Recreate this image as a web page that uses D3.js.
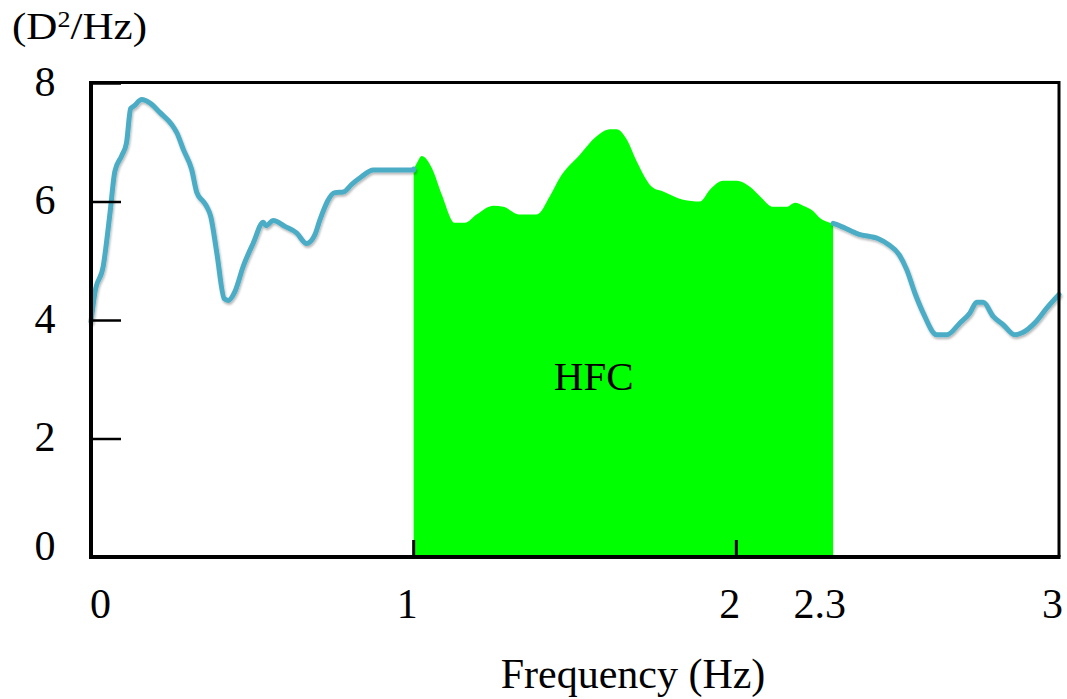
<!DOCTYPE html>
<html>
<head>
<meta charset="utf-8">
<script src="https://cdn.jsdelivr.net/npm/d3@7"></script>
<style>
  html, body { margin: 0; padding: 0; background: #fff; }
  svg { display: block; }
  text { font-family: "Liberation Serif", "Times New Roman", serif; fill: #000; }
</style>
</head>
<body>
<svg id="chart" width="1067" height="699"></svg>
<script>
// Power spectral density of the displacement signal (D^2/Hz) against frequency (Hz)
const psdFreq = [
  0, 0.012, 0.038, 0.059, 0.074, 0.095, 0.11, 0.123, 0.133, 0.157,
  0.183, 0.214, 0.25, 0.266, 0.286, 0.312, 0.328, 0.348, 0.358, 0.371,
  0.39, 0.413, 0.425, 0.446, 0.472, 0.503, 0.534, 0.542, 0.565, 0.601,
  0.637, 0.668, 0.694, 0.71, 0.756, 0.782, 0.808, 0.834, 0.875, 0.999,
  1.0, 1.01, 1.025, 1.056, 1.087, 1.128, 1.159, 1.195, 1.247, 1.278,
  1.329, 1.381, 1.422, 1.453, 1.515, 1.567, 1.608, 1.629, 1.66, 1.691,
  1.742, 1.773, 1.835, 1.887, 1.918, 1.959, 2.001, 2.042, 2.073, 2.114,
  2.156, 2.182, 2.207, 2.238, 2.259, 2.275, 2.3, 2.321, 2.378, 2.44,
  2.47, 2.505, 2.528, 2.553, 2.579, 2.621, 2.652, 2.693, 2.724, 2.745,
  2.765, 2.796, 2.827, 2.863, 2.884, 2.93, 2.962, 3.0
];
const psdValue = [
  3.97, 4.46, 4.91, 5.81, 6.51, 6.77, 6.99, 7.57, 7.61, 7.72,
  7.66, 7.50, 7.30, 7.16, 6.88, 6.54, 6.15, 6.00, 5.92, 5.75,
  5.13, 4.36, 4.33, 4.48, 4.91, 5.30, 5.65, 5.59, 5.68, 5.58,
  5.47, 5.29, 5.44, 5.70, 6.15, 6.16, 6.29, 6.40, 6.53, 6.53,
  6.55, 6.65, 6.77, 6.57, 6.12, 5.64, 5.64, 5.78, 5.93, 5.91,
  5.78, 5.78, 6.09, 6.40, 6.79, 7.10, 7.22, 7.22, 7.05, 6.68,
  6.23, 6.17, 6.03, 6.00, 6.20, 6.35, 6.35, 6.25, 6.09, 5.91,
  5.91, 5.98, 5.93, 5.84, 5.72, 5.67, 5.63, 5.59, 5.45, 5.37,
  5.28, 5.10, 4.85, 4.46, 4.12, 3.75, 3.75, 3.95, 4.12, 4.30,
  4.30, 4.06, 3.92, 3.75, 3.78, 3.98, 4.20, 4.43
];

// High-frequency component band
const hfcBand = [1, 2.3];
const hfcLabel = "HFC";

const yTickValues = [0, 2, 4, 6, 8];
const xTickLabelValues = [0, 1, 2, 2.3, 3];
const xTickMarkValues = [1, 2];

const xTitle = "Frequency (Hz)";

const data = psdFreq.map((f, i) => ({ f, v: psdValue[i] }));

const svg = d3.select("#chart");
const plotLeft = 91, plotRight = 1059, plotTop = 83, plotBottom = 557;

const x = d3.scaleLinear().domain([0, 3]).range([plotLeft, plotRight]);
const y = d3.scaleLinear().domain([0, 8]).range([plotBottom, plotTop]);

// soft shadow under the spectrum line
const defs = svg.append("defs");
const flt = defs.append("filter").attr("id", "lineShadow")
  .attr("x", "-5%").attr("y", "-5%").attr("width", "110%").attr("height", "120%");
flt.append("feDropShadow").attr("dx", 1).attr("dy", 2)
  .attr("stdDeviation", 1.2).attr("flood-color", "#000").attr("flood-opacity", 0.28);

// HFC band fill
const band = data.filter(d => d.f >= hfcBand[0] && d.f <= hfcBand[1]);
const area = d3.area()
  .x(d => x(d.f))
  .y0(y(0))
  .y1(d => y(d.v))
  .curve(d3.curveMonotoneX);
svg.append("path")
  .datum(band)
  .attr("d", area)
  .attr("fill", "#00ff00");

// spectrum line outside the band
const line = d3.line()
  .x(d => x(d.f))
  .y(d => y(d.v))
  .curve(d3.curveMonotoneX);
const segments = [
  data.filter(d => d.f <= hfcBand[0]),
  data.filter(d => d.f >= hfcBand[1])
];
svg.selectAll("path.psd")
  .data(segments)
  .join("path")
  .attr("class", "psd")
  .attr("d", line)
  .attr("fill", "none")
  .attr("stroke", "#4bacc6")
  .attr("stroke-width", 5)
  .attr("stroke-linejoin", "round")
  .attr("stroke-linecap", "round")
  .attr("filter", "url(#lineShadow)");

// frame
const frame = svg.append("g").attr("stroke", "#000").attr("fill", "none");
frame.append("line").attr("x1", plotLeft).attr("x2", plotRight + 1)
  .attr("y1", plotTop - 0.5).attr("y2", plotTop - 0.5).attr("stroke-width", 3);
frame.append("line").attr("x1", plotRight).attr("x2", plotRight)
  .attr("y1", plotTop - 2).attr("y2", plotBottom).attr("stroke-width", 3);

// y axis: inward ticks, labels well to the left
const yAxis = d3.axisLeft(y).tickValues(yTickValues).tickSizeInner(-30).tickSizeOuter(0).tickPadding(46);
const gy = svg.append("g").attr("transform", `translate(${plotLeft},0)`).call(yAxis);
gy.select(".domain").attr("stroke", "#000").attr("stroke-width", 4)
  .attr("d", `M0,${plotTop - 2}V${plotBottom + 2}`);
gy.selectAll(".tick line").attr("stroke", "#000").attr("stroke-width", 2.5);
gy.selectAll(".tick text")
  .attr("text-anchor", "middle")
  .attr("dy", null)
  .attr("y", d => d === 0 ? 2 : 12)
  .style("font-size", "42px")
  .style("font-family", "'Liberation Serif', 'Times New Roman', serif");

// x axis: labels only, tick marks drawn upward at 1 and 2
const xAxis = d3.axisBottom(x).tickValues(xTickLabelValues)
  .tickFormat(d => String(d)).tickSize(0).tickPadding(0);
const gx = svg.append("g").attr("transform", `translate(0,${plotBottom})`).call(xAxis);
gx.select(".domain").attr("stroke", "#000").attr("stroke-width", 4)
  .attr("d", `M${plotLeft - 2},0H${plotRight + 1.5}`);
gx.selectAll(".tick text")
  .attr("dy", null)
  .attr("y", 61)
  .attr("x", d => d === 0 ? 9 : (d === 2.3 ? -14 : -7))
  .style("font-size", "42px")
  .style("font-family", "'Liberation Serif', 'Times New Roman', serif");

svg.append("g").selectAll("line")
  .data(xTickMarkValues)
  .join("line")
  .attr("x1", d => x(d)).attr("x2", d => x(d))
  .attr("y1", plotBottom).attr("y2", plotBottom - 17)
  .attr("stroke", "#000").attr("stroke-width", 3);

// band label, placed left of the band centre
svg.append("text")
  .attr("x", x(hfcBand[0]) + 180)
  .attr("y", 390)
  .attr("text-anchor", "middle")
  .style("font-size", "41px")
  .text(hfcLabel);

// axis titles
svg.append("text")
  .attr("x", 633).attr("y", 688)
  .attr("text-anchor", "middle")
  .style("font-size", "42px")
  .text(xTitle);

const yTitle = svg.append("text")
  .attr("x", 12).attr("y", 39)
  .attr("textLength", 135).attr("lengthAdjust", "spacingAndGlyphs")
  .style("font-size", "38px");
yTitle.append("tspan").text("(D");
yTitle.append("tspan").attr("dy", -12).style("font-size", "23px").text("2");
yTitle.append("tspan").attr("dy", 12).text("/Hz)");
</script>
</body>
</html>
